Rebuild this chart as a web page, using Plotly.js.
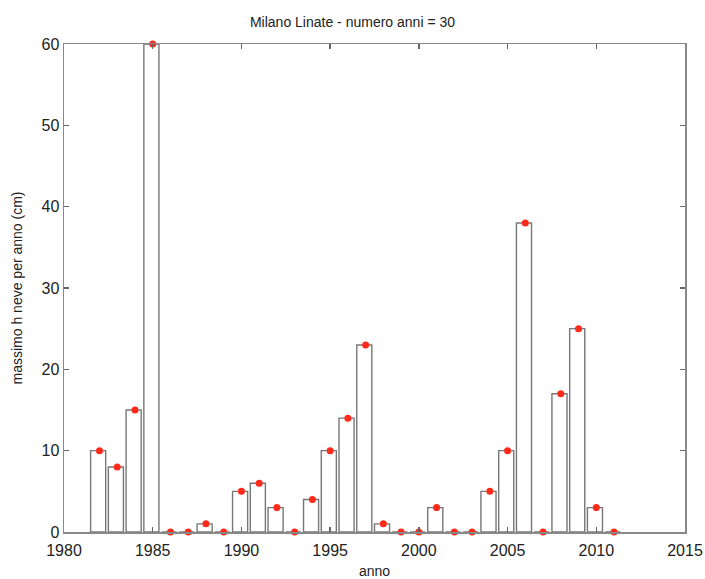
<!DOCTYPE html>
<html>
<head>
<meta charset="utf-8">
<script src="https://cdn.plot.ly/plotly-3.0.1.min.js"></script>
<style>html,body{margin:0;padding:0;background:#fff;}#chart{width:705px;height:579px;}</style>
</head>
<body>
<div id="chart"></div>
<script>
var years = [1982,1983,1984,1985,1986,1987,1988,1989,1990,1991,1992,1993,1994,1995,1996,1997,1998,1999,2000,2001,2002,2003,2004,2005,2006,2007,2008,2009,2010,2011];
var snowMax = [10,8,15,60,0,0,1,0,5,6,3,0,4,10,14,23,1,0,0,3,0,0,5,10,38,0,17,25,3,0];
var xTicks = [1980,1985,1990,1995,2000,2005,2010,2015];
var yTicks = [0,10,20,30,40,50,60];
var titleText = 'Milano Linate - numero anni = 30';
var xLabel = 'anno';
var yLabel = 'massimo h neve per anno (cm)';

var fam = 'Liberation Sans, Arial, sans-serif';
var font = {family: fam, color: '#222', size: 14};
var tickFont = {family: fam, color: '#222', size: 16};

var bars = {
  type: 'bar', x: years, y: snowMax,
  width: 0.85, offset: -0.5,
  marker: {color: '#ffffff', line: {color: '#777', width: 1.4}},
  hoverinfo: 'x+y', showlegend: false
};
var dots = {
  type: 'scatter', mode: 'markers', x: years, y: snowMax,
  marker: {color: '#ff2a1a', size: 7},
  cliponaxis: false, showlegend: false
};

var axisCommon = {
  showgrid: false, zeroline: false, showline: true, linecolor: '#888', linewidth: 1.5,
  mirror: 'ticks', ticks: 'inside', ticklen: 5, tickcolor: '#666', tickwidth: 1.5,
  tickfont: tickFont, automargin: false
};

var layout = {
  width: 705, height: 579,
  margin: {l: 64, r: 20, t: 44, b: 47},
  paper_bgcolor: '#fff', plot_bgcolor: '#fff',
  font: font,
  title: {text: titleText, font: {family: fam, size: 14, color: '#222'}, x: 0.5, xanchor: 'center', y: 0.962, yanchor: 'middle'},
  xaxis: Object.assign({}, axisCommon, {range: [1980, 2015], tickmode: 'array', tickvals: xTicks, ticktext: xTicks.map(String),
    ticklabelstandoff: 3,
    title: {text: xLabel, font: font, standoff: 10}}),
  yaxis: Object.assign({}, axisCommon, {range: [0, 60], tickmode: 'array', tickvals: yTicks, ticktext: yTicks.map(String),
    title: {text: yLabel, font: font, standoff: 15}}),
  bargap: 0
};

Plotly.newPlot('chart', [bars, dots], layout, {displayModeBar: false, staticPlot: true});
</script>
</body>
</html>
